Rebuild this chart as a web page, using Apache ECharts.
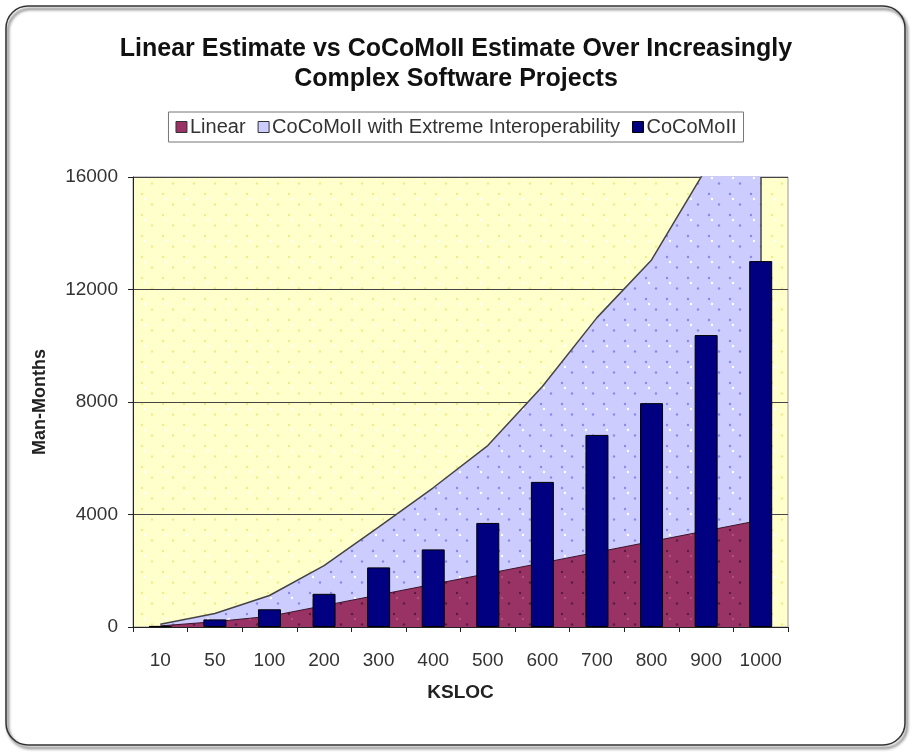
<!DOCTYPE html>
<html>
<head>
<meta charset="utf-8">
<script src="https://cdn.jsdelivr.net/npm/echarts@6/dist/echarts.min.js"></script>
<style>
  html, body { margin: 0; padding: 0; background: #fff; }
  #chart { width: 912px; height: 752px; }
</style>
</head>
<body>
<div id="chart"></div>
<script>
// KSLOC categories and estimates in man-months
const categories = ['10', '50', '100', '200', '300', '400', '500', '600', '700', '800', '900', '1000'];
const linearEstimate = [38, 190, 380, 760, 1140, 1520, 1900, 2280, 2660, 3040, 3420, 3800];
const extremeEstimate = [100, 480, 1120, 2180, 3550, 4950, 6450, 8550, 11000, 13050, 16300, 19800];
const cocomoEstimate = [40, 270, 630, 1180, 2120, 2760, 3700, 5160, 6830, 7960, 10380, 13010];
const yTicks = { min: 0, max: 16000, interval: 4000 };

const FONT = '"Liberation Sans", Arial, sans-serif';

// Small dotted fill tiles, in the style of a 5% spreadsheet pattern
function dotTile(bg, dots) {
  const c = document.createElement('canvas');
  c.width = 21; c.height = 21;
  const ctx = c.getContext('2d');
  ctx.fillStyle = bg;
  ctx.fillRect(0, 0, 21, 21);
  dots.forEach(function (d) {
    ctx.fillStyle = d[2];
    ctx.beginPath();
    ctx.arc(d[0], d[1], 1.2, 0, Math.PI * 2);
    ctx.fill();
  });
  return { image: c, repeat: 'repeat' };
}

const yellowFill = dotTile('#FFFFCC', [[16, 5, '#F0EC88'], [5, 15.5, '#F0EC88'], [19, 10, '#FFFFFF']]);
const lavenderFill = dotTile('#CCCCFF', [[16, 5, '#8A8AEE'], [5, 15.5, '#8A8AEE'], [19, 10, '#FFFFFF']]);
const maroonFill = dotTile('#993366', [[16, 5, '#5A1C3C'], [5, 15.5, '#5A1C3C'], [19, 10, '#B0507E']]);

const lastCat = categories[categories.length - 1];
const lastBar = cocomoEstimate[cocomoEstimate.length - 1];

const chart = echarts.init(document.getElementById('chart'), null, { renderer: 'canvas' });

chart.setOption({
  animation: false,
  backgroundColor: '#ffffff',
  graphic: [{
    type: 'rect',
    shape: { x: 6, y: 6, width: 899, height: 739, r: 22 },
    style: {
      fill: null,
      stroke: '#333',
      lineWidth: 1.5,
      shadowBlur: 3,
      shadowOffsetX: 2,
      shadowOffsetY: 3,
      shadowColor: 'rgba(0,0,0,0.75)'
    },
    silent: true
  }],
  title: {
    text: 'Linear Estimate vs CoCoMoII Estimate Over Increasingly\nComplex Software Projects',
    left: 'center',
    top: 29,
    textStyle: {
      fontFamily: FONT,
      fontSize: 25,
      fontWeight: 'bold',
      color: '#111',
      lineHeight: 30
    }
  },
  legend: {
    top: 112,
    left: 'center',
    itemWidth: 11,
    itemHeight: 11,
    itemGap: 12,
    padding: [5, 7],
    borderColor: '#777',
    borderWidth: 1,
    icon: 'rect',
    textStyle: { fontFamily: FONT, fontSize: 20, color: '#333', padding: [0, 0, 0, -2] },
    data: [
      { name: 'Linear', itemStyle: { color: '#993366', borderColor: '#333', borderWidth: 1 } },
      { name: 'CoCoMoII with Extreme Interoperability', itemStyle: { color: '#CCCCFF', borderColor: '#333', borderWidth: 1 } },
      { name: 'CoCoMoII', itemStyle: { color: '#000080', borderColor: '#000', borderWidth: 1 } }
    ]
  },
  grid: {
    left: 133,
    right: 124,
    top: 177,
    bottom: 125,
    show: true,
    backgroundColor: yellowFill,
    borderColor: '#999',
    borderWidth: 1
  },
  xAxis: {
    type: 'category',
    data: categories,
    boundaryGap: true,
    name: 'KSLOC',
    nameLocation: 'middle',
    nameGap: 56,
    nameTextStyle: { fontFamily: FONT, fontSize: 19, fontWeight: 'bold', color: '#222' },
    axisLine: { lineStyle: { color: '#222', width: 1 } },
    axisTick: { show: true, alignWithLabel: false, inside: false, length: 5, lineStyle: { color: '#222' } },
    axisLabel: { fontFamily: FONT, fontSize: 19, color: '#333', margin: 24, interval: 0 },
    splitLine: { show: false }
  },
  yAxis: {
    type: 'value',
    min: yTicks.min,
    max: yTicks.max,
    interval: yTicks.interval,
    name: 'Man-Months',
    nameLocation: 'middle',
    nameRotate: 90,
    nameGap: 84,
    nameTextStyle: { fontFamily: FONT, fontSize: 18, fontWeight: 'bold', color: '#222' },
    axisLine: { show: true, lineStyle: { color: '#222', width: 1 } },
    axisTick: { show: true, inside: false, length: 5, lineStyle: { color: '#222' } },
    axisLabel: {
      fontFamily: FONT, fontSize: 19, color: '#333', margin: 15,
      formatter: function (v) { return String(v); }
    },
    splitLine: { show: true, lineStyle: { color: '#444', width: 1.2 } }
  },
  series: [
    {
      name: 'CoCoMoII with Extreme Interoperability',
      type: 'line',
      data: extremeEstimate,
      symbol: 'none',
      clip: true,
      z: 1,
      itemStyle: { color: '#CCCCFF' },
      lineStyle: { color: '#444', width: 1.5 },
      areaStyle: { color: lavenderFill, opacity: 1 },
      markLine: {
        silent: true,
        symbol: 'none',
        label: { show: false },
        lineStyle: { color: '#444', width: 1.5, type: 'solid' },
        data: [[
          { xAxis: lastCat, yAxis: lastBar },
          { xAxis: lastCat, yAxis: yTicks.max }
        ]]
      }
    },
    {
      name: 'Linear',
      type: 'line',
      data: linearEstimate,
      symbol: 'none',
      z: 2,
      itemStyle: { color: '#993366' },
      lineStyle: { color: '#3a1428', width: 1 },
      areaStyle: { color: maroonFill, opacity: 1 }
    },
    {
      name: 'CoCoMoII',
      type: 'bar',
      data: cocomoEstimate,
      barWidth: 23,
      z: 3,
      itemStyle: { color: '#000080', borderColor: '#000', borderWidth: 1 }
    }
  ]
});
</script>
</body>
</html>
